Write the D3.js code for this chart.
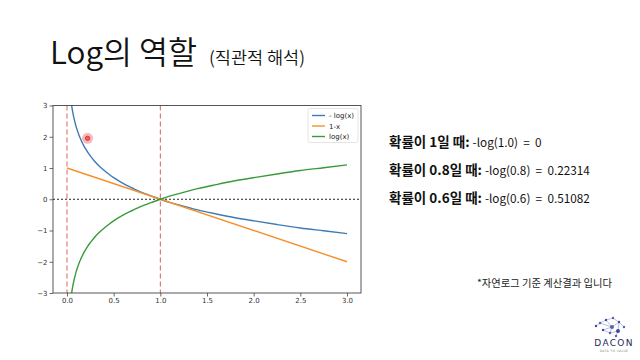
<!DOCTYPE html>
<html><head><meta charset="utf-8">
<script src="https://cdn.jsdelivr.net/npm/d3@7"></script>
<style>html,body{margin:0;padding:0;background:#fff;}svg{display:block;} .pre{white-space:pre;}</style>
</head><body>
<svg id="c" width="640" height="360"></svg>
<script>
// ---- data ----
const curveX   = [0.04, 0.045, 0.05, 0.055, 0.06, 0.07, 0.08, 0.09, 0.1, 0.11, 0.12, 0.135, 0.15, 0.175, 0.2, 0.225, 0.25, 0.3, 0.35, 0.4, 0.45, 0.5, 0.6, 0.7, 0.8, 0.9, 1.0, 1.1, 1.2, 1.4, 1.6, 1.8, 2.0, 2.25, 2.5, 2.75, 3.0];
const negLogY  = [3.22, 3.10, 3.00, 2.90, 2.81, 2.66, 2.53, 2.41, 2.30, 2.21, 2.12, 2.00, 1.90, 1.74, 1.61, 1.49, 1.39, 1.20, 1.05, 0.92, 0.80, 0.69, 0.51, 0.36, 0.22, 0.11, 0.00, -0.10, -0.18, -0.34, -0.47, -0.59, -0.69, -0.81, -0.92, -1.01, -1.10];
const logY     = [-3.22, -3.10, -3.00, -2.90, -2.81, -2.66, -2.53, -2.41, -2.30, -2.21, -2.12, -2.00, -1.90, -1.74, -1.61, -1.49, -1.39, -1.20, -1.05, -0.92, -0.80, -0.69, -0.51, -0.36, -0.22, -0.11, 0.00, 0.10, 0.18, 0.34, 0.47, 0.59, 0.69, 0.81, 0.92, 1.01, 1.10];
const lineX    = [0.0, 3.0];
const oneMinusY= [1.0, -2.0];
const seriesNames = ["- log(x)", "1-x", "log(x)"];
const vLinesX  = [0.0, 1.0];
const hLineY   = [0.0];
const xTicks   = [0.0, 0.5, 1.0, 1.5, 2.0, 2.5, 3.0];
const yTicks   = [-3, -2, -1, 0, 1, 2, 3];
const pointer  = [0.22, 1.95];
const noteBold = ["확률이 1일 때:", "확률이 0.8일 때:", "확률이 0.6일 때:"];
const noteText = ["-log(1.0)  =  0", "-log(0.8)  =  0.22314", "-log(0.6)  =  0.51082"];

const svg = d3.select("#c");
svg.append("rect").attr("width",640).attr("height",360).attr("fill","#fff");

// title
const t = svg.append("text").attr("x",50).attr("y",64)
  .attr("font-family","'Noto Sans CJK KR','Noto Sans',sans-serif").attr("fill","#111");
t.append("tspan").attr("font-size",31.5).attr("font-weight",350).text("Log의 역할");
t.append("tspan").attr("dx",12).attr("font-size",17.5).attr("font-weight",350).text("(직관적 해석)");

// plot
const L=53,R=361,T=105.5,B=293;
const x = d3.scaleLinear().domain([-0.15,3.15]).range([L,R]);
const y = d3.scaleLinear().domain([-3,3]).range([B,T]);
svg.append("clipPath").attr("id","clip").append("rect").attr("x",L).attr("y",T).attr("width",R-L).attr("height",B-T);

const g = svg.append("g");
const plot = g.append("g").attr("clip-path","url(#clip)");

plot.selectAll(".vl").data(vLinesX).join("line")
  .attr("x1",d=>x(d)).attr("x2",d=>x(d)).attr("y1",T).attr("y2",B)
  .attr("stroke","#e0605a").attr("stroke-width",1).attr("stroke-dasharray","5,3");
plot.selectAll(".hl").data(hLineY).join("line")
  .attr("x1",L).attr("x2",R).attr("y1",d=>y(d)).attr("y2",d=>y(d))
  .attr("stroke","#222").attr("stroke-width",1).attr("stroke-dasharray","2,2");

const colors = ["#3f7bb3","#f5902b","#3a9a3a"];
const lineGen = d3.line().x(d=>x(d[0])).y(d=>y(d[1])).curve(d3.curveMonotoneX);
const series = [
  d3.zip(curveX, negLogY),
  d3.zip(lineX, oneMinusY),
  d3.zip(curveX, logY)
];
series.forEach((s,i)=>{
  plot.append("path").attr("d",lineGen(s)).attr("fill","none")
    .attr("stroke",colors[i]).attr("stroke-width",1.4);
});

plot.append("circle").attr("cx",x(pointer[0])).attr("cy",y(pointer[1])).attr("r",5.5).attr("fill","#f7a8a8").attr("opacity",0.8);
plot.append("circle").attr("cx",x(pointer[0])).attr("cy",y(pointer[1])).attr("r",2.2).attr("fill","#e86060").attr("stroke","#c0302a").attr("stroke-width",0.8);

const xa = g.append("g").attr("transform",`translate(0,${B})`)
  .call(d3.axisBottom(x).tickValues(xTicks).tickFormat(d3.format(".1f")).tickSize(3.5).tickPadding(2));
const ya = g.append("g").attr("transform",`translate(${L},0)`)
  .call(d3.axisLeft(y).tickValues(yTicks).tickFormat(d=>d<0?"−"+Math.abs(d):String(d)).tickSize(3.5).tickPadding(2));
[xa,ya].forEach(a=>{
  a.select(".domain").remove();
  a.selectAll("line").attr("stroke","#444").attr("stroke-width",0.8);
  a.selectAll("text").attr("font-family","'DejaVu Sans',sans-serif").attr("font-size",7).attr("fill","#333");
});
g.append("rect").attr("x",L).attr("y",T).attr("width",R-L).attr("height",B-T)
  .attr("fill","none").attr("stroke","#444").attr("stroke-width",0.9);

const lg = g.append("g");
lg.append("rect").attr("x",308).attr("y",108.5).attr("width",50).attr("height",34).attr("rx",2)
  .attr("fill","#fff").attr("fill-opacity",0.85).attr("stroke","#ddd").attr("stroke-width",0.8);
seriesNames.forEach((n,i)=>{
  const yy = 115.5 + i*10.5;
  lg.append("line").attr("x1",312).attr("x2",325).attr("y1",yy).attr("y2",yy).attr("stroke",colors[i]).attr("stroke-width",1.4);
  lg.append("text").attr("x",329).attr("y",yy+2.5).attr("font-family","'DejaVu Sans',sans-serif").attr("font-size",7).attr("fill","#222").text(n);
});

// right-side notes: size fitted so that the 2nd line matches the reference widths
const fam = "'Noto Sans CJK KR','Noto Sans',sans-serif";
function measure(txt, size, weight){
  const tmp = svg.append("text").attr("class","pre").attr("font-family",fam).attr("font-size",size).attr("font-weight",weight).text(txt);
  const w = tmp.node().getComputedTextLength(); tmp.remove(); return w;
}
const boldSize = 13 * 93 / measure(noteBold[1], 13, 700);
const normSize = 12 * 105 / measure(noteText[1], 12, 400);
noteBold.forEach((b,i)=>{
  const yy = 147 + i*28;
  const tb = svg.append("text").attr("class","pre").attr("x",389).attr("y",yy)
    .attr("font-family",fam).attr("font-size",boldSize).attr("font-weight",700).attr("fill","#111").text(b);
  const bw = tb.node().getComputedTextLength();
  svg.append("text").attr("class","pre").attr("x",389+bw+3).attr("y",yy)
    .attr("font-family",fam).attr("font-size",normSize).attr("font-weight",400).attr("fill","#111").text(noteText[i]);
});

svg.append("text").attr("x",477).attr("y",287)
  .attr("font-family",fam).attr("font-size",10.3).attr("fill","#222")
  .text("*자연로그 기준 계산결과 입니다");

const logo = svg.append("g");
const nodes = [[600,323],[606,320],[613,318],[619,322],[612,327],[603,330],[610,333],[618,331],[624,327],[596,326],[616,336]];
const links = [[0,1],[1,2],[2,3],[1,4],[4,3],[4,5],[5,6],[6,7],[7,3],[3,8],[0,9],[4,6],[7,10],[0,4]];
links.forEach(l=>logo.append("line").attr("x1",nodes[l[0]][0]).attr("y1",nodes[l[0]][1]).attr("x2",nodes[l[1]][0]).attr("y2",nodes[l[1]][1]).attr("stroke","#8a93c8").attr("stroke-width",0.6));
nodes.forEach((n,i)=>logo.append("circle").attr("cx",n[0]).attr("cy",n[1]).attr("r",i===4||i===7?2:1.2).attr("fill",i%2?"#3b4aa0":"#5a5fb5"));
logo.append("text").attr("x",614).attr("y",346).attr("text-anchor","middle").attr("font-family","'DejaVu Sans',sans-serif")
  .attr("font-size",9).attr("letter-spacing",1.3).attr("fill","#1e2a5a").text("DACON");
logo.append("text").attr("x",614).attr("y",352).attr("text-anchor","middle").attr("font-family","'DejaVu Sans',sans-serif")
  .attr("font-size",3.2).attr("letter-spacing",0.3).attr("fill","#888").text("DATA TO VALUE");
</script>
</body></html>
